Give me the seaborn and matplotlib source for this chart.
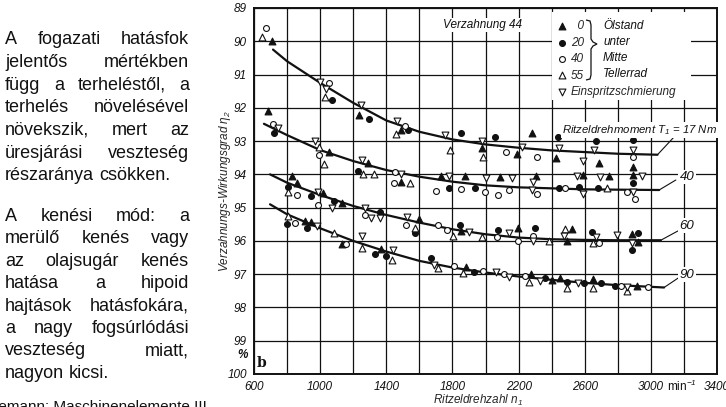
import matplotlib
matplotlib.use("Agg")
import matplotlib.pyplot as plt
import matplotlib.transforms as mtransforms
from matplotlib import font_manager
from matplotlib.patches import Rectangle, PathPatch
from matplotlib.path import Path
import pandas as pd
import seaborn as sns

# --- Messpunkte (Ritzeldrehzahl n1 in min^-1, Wirkungsgrad in %) ---
# 0 Ölstand (gefülltes Dreieck)
oel0_n = [711, 1232, 1489, 1976, 2282, 2192, 2424, 2687, 2893,
          687, 1051, 1287, 1489, 1731, 1879, 2087, 2303, 2591, 2747, 2893,
          828, 859, 1020, 1135, 1596, 1853, 2196, 2491, 2524, 2885, 2923,
          909, 945, 1131, 1367, 1883, 2277, 2404, 2448, 2652, 2915]
oel0_eta = [89.98, 92.21, 92.66, 93.21, 92.76, 93.39, 93.50, 93.66, 93.78,
            92.11, 93.34, 93.66, 94.22, 94.04, 94.04, 94.09, 94.05, 94.03, 94.06, 94.03,
            94.06, 94.27, 94.55, 94.85, 95.35, 95.69, 95.60, 96.00, 95.64, 95.80, 96.02,
            95.39, 95.42, 96.10, 96.25, 96.77, 96.99, 97.17, 97.12, 97.14, 97.35]
# 20 (gefüllter Kreis)
oel20_n = [1071, 1295, 1531, 1853, 2055, 2438, 2670, 2893,
           721, 1228, 1782, 1939, 2444, 2566, 2682, 2893,
           808, 944, 1081, 1364, 1571, 1848, 2074, 2297, 2642, 2923, 2883,
           802, 923, 1329, 1400, 1671, 1929, 2357, 2491, 2595, 2700, 2782]
oel20_eta = [91.78, 92.33, 92.68, 92.77, 92.89, 92.88, 93.01, 92.98,
             92.77, 93.89, 94.40, 94.40, 94.41, 94.37, 94.41, 94.27,
             94.37, 94.64, 94.79, 95.12, 95.75, 95.52, 95.67, 95.62, 95.74, 95.77, 96.27,
             95.49, 95.60, 96.40, 96.44, 96.52, 96.92, 97.12, 97.22, 97.27, 97.27, 97.35]
# 40 (offener Kreis)
oel40_n = [673, 1055, 1515, 2125, 2309, 2893,
           717, 996, 1450, 1444, 1703, 1853, 1994, 2075, 2145, 2313, 2479, 2858, 2906,
           859, 990, 1273, 1519, 1713, 1768, 2071, 2196, 2289, 2687,
           848, 1157, 1812, 1985, 2111, 2236, 2818, 2980]
oel40_eta = [89.61, 91.24, 92.54, 93.34, 93.47, 93.49,
             92.49, 93.41, 93.93, 94.27, 94.49, 94.44, 94.52, 94.62, 94.47, 94.60, 94.40, 94.52, 94.74,
             94.62, 94.92, 95.21, 95.52, 95.52, 95.67, 95.87, 96.00, 95.85, 96.05,
             95.45, 96.09, 96.75, 96.89, 96.99, 97.05, 97.35, 97.39]
# 55 Tellerrad (offenes Dreieck)
oel55_n = [647, 1030, 1461, 1784, 1984,
           996, 1026, 1262, 1327, 1541, 2737,
           808, 1571, 1802, 1980, 2384, 2479, 2652,
           808, 1081, 1252, 1435, 1713, 1862, 2262, 2491, 2652, 2855]
oel55_eta = [89.88, 91.68, 92.79, 93.27, 93.47,
             93.18, 93.69, 93.99, 93.99, 94.25, 94.41,
             94.54, 95.62, 95.85, 95.87, 96.00, 95.64, 96.07,
             95.24, 95.75, 96.20, 96.57, 96.82, 96.97, 97.22, 97.42, 97.42, 97.50]
# Einspritzschmierung (offenes Dreieck nach unten)
spritz_n = [1000, 1036, 1248, 1465, 1757, 1980, 2222, 2444, 2655, 2590, 2893,
            748, 970, 1252, 1489, 1778, 2000, 2162, 2287, 2551, 2692, 2945, 2282, 2590, 2893,
            990, 1071, 1273, 1307, 1360, 1525, 1899, 2141, 2289, 2475, 2667, 2794, 2885,
            980, 1252, 1438, 1687, 2061, 2145, 2327, 2559, 2858]
spritz_eta = [91.23, 91.43, 91.93, 92.41, 92.81, 93.01, 93.18, 93.21, 93.26, 93.59, 93.26,
              92.61, 93.01, 93.56, 93.99, 94.06, 94.11, 94.11, 94.22, 94.06, 94.08, 94.05, 94.47, 94.60, 94.52,
              94.52, 95.02, 95.02, 95.32, 95.32, 95.27, 95.74, 95.75, 96.00, 95.85, 95.87, 95.82, 96.05,
              95.55, 95.85, 96.27, 96.72, 96.92, 97.09, 97.20, 97.27, 97.39]

# Ausgleichskurven je Ritzeldrehmoment
t17_n = [715, 800, 1000, 1200, 1400, 1600, 1800, 2000, 2200, 2400, 2600, 2800, 3040]
t17_eta = [90.25, 90.6, 91.25, 91.85, 92.38, 92.72, 92.95, 93.1, 93.2, 93.28, 93.33, 93.38, 93.41]
t40_n = [660, 800, 1000, 1200, 1400, 1600, 1800, 2000, 2200, 2400, 2600, 2800, 3050]
t40_eta = [92.48, 92.82, 93.27, 93.6, 93.87, 94.07, 94.22, 94.33, 94.39, 94.42, 94.45, 94.46, 94.47]
t60_n = [697, 800, 1000, 1200, 1400, 1600, 1800, 2000, 2200, 2400, 2600, 2800, 3060]
t60_eta = [94.0, 94.25, 94.62, 94.95, 95.22, 95.45, 95.65, 95.8, 95.9, 95.95, 95.97, 95.98, 95.98]
t90_n = [697, 800, 1000, 1200, 1400, 1600, 1800, 2000, 2200, 2400, 2600, 2800, 3080]
t90_eta = [94.9, 95.2, 95.62, 96.0, 96.32, 96.6, 96.8, 96.95, 97.07, 97.17, 97.26, 97.33, 97.4]

y_ticks = list(range(89, 101))
x_label_ticks = [600, 1000, 1400, 1800, 2200, 2600, 3000, 3400]

para1 = ["A fogazati hatásfok", "jelentős mértékben", "függ a terheléstől, a",
         "terhelés növelésével", "növekszik, mert az", "üresjárási veszteség",
         "részaránya csökken."]
para2 = ["A kenési mód: a", "merülő kenés vagy", "az olajsugár kenés",
         "hatása a hipoid", "hajtások hatásfokára,", "a nagy fogsúrlódási",
         "veszteség miatt,", "nagyon kicsi."]

# --- Stil ---
sns.set_style("white")
names = {f.name for f in font_manager.fontManager.ttflist}
sans = 'Liberation Sans' if 'Liberation Sans' in names else 'DejaVu Sans'
plt.rcParams['font.family'] = [sans, 'DejaVu Sans']
plt.rcParams['mathtext.fontset'] = 'custom'
plt.rcParams['mathtext.it'] = sans + ':italic'
plt.rcParams['mathtext.rm'] = sans + ':italic'
ink = '#111111'

fig = plt.figure(figsize=(7.26, 4.07), dpi=100)
# Pixel-Koordinaten des Bildes -> Figure
px = mtransforms.Affine2D().scale(1 / 726, -1 / 407).translate(0, 1) + fig.transFigure

ax = fig.add_axes([254 / 726, 1 - 374 / 407, (717 - 254) / 726, (374 - 8) / 407])

curves = pd.concat([
    pd.DataFrame({'n': t17_n, 'eta': t17_eta, 'T': 17}),
    pd.DataFrame({'n': t40_n, 'eta': t40_eta, 'T': 40}),
    pd.DataFrame({'n': t60_n, 'eta': t60_eta, 'T': 60}),
    pd.DataFrame({'n': t90_n, 'eta': t90_eta, 'T': 90}),
])
sns.lineplot(data=curves, x='n', y='eta', units='T', estimator=None, sort=False,
             color=ink, lw=1.6, ax=ax, zorder=2)

series = [
    (oel0_n, oel0_eta, '^', ink, '\u20070', 24),
    (oel20_n, oel20_eta, 'o', ink, '20', 18),
    (oel40_n, oel40_eta, 'o', 'white', '40', 18),
    (oel55_n, oel55_eta, '^', 'white', '55', 24),
    (spritz_n, spritz_eta, 'v', 'white', 'Einspritzschmierung', 24),
]
for xs, ys, m, fc, lab, s in series:
    d = pd.DataFrame({'n': xs, 'eta': ys})
    sns.scatterplot(data=d, x='n', y='eta', marker=m, s=s, facecolor=fc,
                    edgecolor=ink, linewidth=0.8, label=lab, ax=ax, zorder=3)

ax.set_xlim(600, 3400)
ax.set_ylim(100, 89)
ax.set_xticks(x_label_ticks)
ax.set_xticks([800, 1200, 1600, 2000, 2400, 2800, 3200], minor=True)
ax.set_xticklabels([str(v) for v in x_label_ticks], style='italic', fontsize=8.5)
ax.set_yticks(y_ticks)
ax.set_yticklabels([str(v) for v in y_ticks], style='italic', fontsize=8.5)
ax.tick_params(axis='both', which='both', length=0, colors=ink)
ax.tick_params(axis='x', pad=5)
ax.tick_params(axis='y', pad=5)
ax.grid(True, which='both', color=ink, lw=0.9)
ax.set_axisbelow(True)
for sp in ax.spines.values():
    sp.set_color(ink)
    sp.set_linewidth(1.4)

ax.set_xlabel('Ritzeldrehzahl $n_1$', style='italic', fontsize=8.5)
ax.xaxis.set_label_coords(0.484, -0.052)
ax.set_ylabel('Verzahnungs-Wirkungsgrad $\\eta_2$', style='italic', fontsize=8.5)
ax.yaxis.set_label_coords(-0.045, 0.50)

# weiße Fläche hinter der Legende
ax.add_patch(Rectangle((0.644, 0.75), 0.30, 0.24, transform=ax.transAxes,
                       facecolor='white', edgecolor='none', zorder=1))

h, l = ax.get_legend_handles_labels()
leg = ax.legend(h, l, loc='upper left', bbox_to_anchor=(0.655, 0.966), frameon=False,
                handlelength=0.8, handletextpad=0.35, labelspacing=0.37,
                borderpad=0, borderaxespad=0, prop={'style': 'italic', 'size': 8.5})

for word, yy in zip(['Ölstand', 'unter', 'Mitte', 'Tellerrad'], [26, 42, 58, 74]):
    fig.text(603, yy, word, transform=px, style='italic', fontsize=8.5, va='center', color=ink)
brace = Path([(586, 20), (590, 21), (591, 25), (591, 39), (593, 42), (597, 44), (593, 46),
              (591, 49), (591, 75), (590, 79), (586, 80)])
fig.add_artist(PathPatch(brace, transform=px, fill=False, lw=0.9, color=ink))

fig.text(443, 25, 'Verzahnung 44', transform=px, style='italic', fontsize=8.5, va='center',
         color=ink, bbox=dict(fc='white', ec='none', pad=1))
fig.text(562, 130, 'Ritzeldrehmoment $T_1$ = 17 Nm', transform=px, style='italic',
         fontsize=8.2, va='center', color=ink, bbox=dict(fc='white', ec='none', pad=1))
fig.text(682, 386, 'min$^{-1}$', transform=px, fontsize=8.5, va='center', ha='center', color=ink)
fig.text(243, 355, '%', transform=px, fontsize=8.5, va='center', ha='center',
         style='italic', weight='bold', color=ink)
fig.text(262, 363, 'b', transform=px, fontsize=10, va='center', ha='center',
         family='DejaVu Serif', weight='bold', color=ink)

# Leitlinien und Beschriftungen der Kurven
ax.annotate('', xy=(3040, 93.41), xytext=(3164, 92.75),
            arrowprops=dict(arrowstyle='-', lw=0.8, color=ink, shrinkA=0, shrinkB=0))
for txt, end, lead, pos in [('40', (3050, 94.47), (3151, 94.17), (3218, 94.08)),
                            ('60', (3060, 95.98), (3164, 95.70), (3218, 95.55)),
                            ('90', (3080, 97.40), (3170, 97.10), (3218, 97.02))]:
    ax.annotate('', xy=end, xytext=lead,
                arrowprops=dict(arrowstyle='-', lw=0.8, color=ink, shrinkA=0, shrinkB=0))
    ax.text(pos[0], pos[1], txt, style='italic', fontsize=9.5, ha='center', va='center',
            color=ink, bbox=dict(fc='white', ec='none', pad=1), zorder=4)

# --- linker Textblock, Blocksatz ---
renderer = fig.canvas.get_renderer()
left, right, fs = 5, 189, 13


def put_line(line, y, justify=True):
    words = line.split()
    items = [fig.text(0, 0, w, transform=px, fontsize=fs, va='baseline', color=ink)
             for w in words]
    widths = [t.get_window_extent(renderer).width for t in items]
    if justify and len(words) > 1:
        gap = (right - left - sum(widths)) / (len(words) - 1)
    else:
        gap = 0.28 * fs * 100 / 72
    x = left
    for t, w in zip(items, widths):
        t.set_position((x, y))
        x += w + gap


for i, line in enumerate(para1):
    put_line(line, 44.5 + 22.6 * i, justify=(i < len(para1) - 1))
for i, line in enumerate(para2):
    put_line(line, 221 + 22.4 * i, justify=(i < len(para2) - 1))

fig.text(207, 411, 'Niemann: Maschinenelemente III', transform=px, fontsize=11,
         ha='right', va='baseline', color=ink)

fig.savefig('out.png', dpi=100)
